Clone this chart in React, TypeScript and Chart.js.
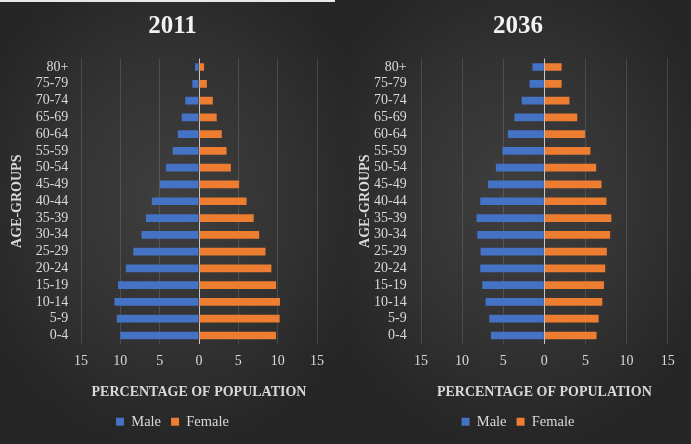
import React, { useEffect, useRef } from "react";
import { Chart, registerables } from "chart.js";

Chart.register(...registerables);

const AGE_GROUPS = ["0-4", "5-9", "10-14", "15-19", "20-24", "25-29", "30-34", "35-39", "40-44", "45-49", "50-54", "55-59", "60-64", "65-69", "70-74", "75-79", "80+"];
const MALE_2011 = [10.0, 10.45, 10.75, 10.3, 9.3, 8.35, 7.3, 6.75, 6.0, 5.0, 4.2, 3.35, 2.7, 2.2, 1.75, 0.85, 0.5];
const FEMALE_2011 = [9.8, 10.25, 10.3, 9.8, 9.2, 8.45, 7.65, 6.95, 6.05, 5.1, 4.05, 3.5, 2.9, 2.25, 1.75, 1.0, 0.65];
const MALE_2036 = [6.5, 6.7, 7.15, 7.55, 7.8, 7.75, 8.15, 8.25, 7.8, 6.85, 5.9, 5.1, 4.45, 3.65, 2.75, 1.8, 1.45];
const FEMALE_2036 = [6.35, 6.6, 7.05, 7.25, 7.4, 7.6, 8.0, 8.15, 7.55, 6.95, 6.3, 5.6, 4.95, 4.0, 3.05, 2.1, 2.1];
const X_MIN = -15;
const X_MAX = 15;
const X_STEP = 5;

const BLUE = "#4472C4";
const ORANGE = "#ED7D31";
const TEXT = "#d9d9d9";
const FONT = "'Liberation Serif', 'DejaVu Serif', serif";

type Geom = {
  width: number;
  yWidth: number;
  rightPad: number;
  labelPad: number;
  yTitlePad: number;
};

function Pyramid({ title, male, female, geom }: { title: string; male: number[]; female: number[]; geom: Geom }) {
  const ref = useRef<HTMLCanvasElement>(null);
  useEffect(() => {
    const chart = new Chart(ref.current as HTMLCanvasElement, {
      type: "bar",
      data: {
        labels: AGE_GROUPS,
        datasets: [
          {
            label: "Male",
            data: male.map((v) => -v),
            backgroundColor: BLUE,
            borderWidth: 0,
            barPercentage: 0.5,
            categoryPercentage: 0.92,
          },
          {
            label: "Female",
            data: female,
            backgroundColor: ORANGE,
            borderWidth: 0,
            barPercentage: 0.5,
            categoryPercentage: 0.92,
          },
        ],
      },
      options: {
        indexAxis: "y",
        responsive: false,
        animation: false,
        devicePixelRatio: 1,
        layout: { padding: { top: 0, left: 0, right: 0, bottom: 5 } },
        scales: {
          x: {
            stacked: true,
            min: X_MIN,
            max: X_MAX,
            ticks: {
              stepSize: X_STEP,
              color: TEXT,
              padding: 9.5,
              font: { family: FONT, size: 14 },
              callback: (v: any) => String(Math.abs(Number(v))),
            },
            grid: {
              drawTicks: false,
              color: (ctx: any) => (ctx.tick && ctx.tick.value === 0 ? "#c8c8c8" : "rgba(217,217,217,0.16)"),
              lineWidth: 1,
            },
            border: { display: false },
            title: {
              display: true,
              text: "PERCENTAGE OF POPULATION",
              color: TEXT,
              font: { family: FONT, size: 14, weight: "bold" },
              padding: { top: 0, bottom: 4.1 },
            },
            afterFit: (s: any) => {
              s.height = 60.6;
            },
          },
          y: {
            stacked: true,
            reverse: true,
            ticks: {
              color: TEXT,
              padding: geom.labelPad,
              font: { family: FONT, size: 14 },
              autoSkip: false,
            },
            grid: { display: false, drawTicks: false },
            border: { display: false },
            title: {
              display: true,
              text: "AGE-GROUPS",
              color: TEXT,
              font: { family: FONT, size: 14, weight: "bold" },
              padding: { top: geom.yTitlePad, bottom: 0 },
            },
            afterFit: (s: any) => {
              s.width = geom.yWidth;
            },
          },
          yR: {
            type: "category",
            position: "right",
            display: true,
            ticks: { display: false },
            grid: { display: false, drawTicks: false },
            border: { display: false },
            afterFit: (s: any) => {
              s.width = geom.rightPad;
            },
          },
        },
        plugins: {
          title: {
            display: true,
            text: title,
            color: "#f2f2f2",
            font: { family: FONT, size: 25, weight: "bold" },
            padding: { top: 12, bottom: 16.6 },
          },
          legend: {
            display: true,
            position: "bottom",
            labels: {
              color: TEXT,
              boxWidth: 8,
              boxHeight: 8,
              padding: 10,
              font: { family: FONT, size: 14.5 },
            },
          },
          tooltip: { enabled: false },
        },
      } as any,
    });
    return () => chart.destroy();
  }, []);
  return <canvas ref={ref} width={geom.width} height={444} style={{ display: "block" }} />;
}

const panelBg = "radial-gradient(ellipse 60% 55% at 50% 45%, #3f3f3f 0%, #333333 55%, #262626 100%)";

export default function App() {
  return (
    <div style={{ position: "fixed", left: 0, top: 0, width: 691, height: 444, background: "#262626", overflow: "hidden" }}>
      <div style={{ position: "absolute", left: 0, top: 0, width: 345, height: 444, background: panelBg }}>
        <Pyramid title="2011" male={MALE_2011} female={FEMALE_2011} geom={{ width: 345, yWidth: 81, rightPad: 28, labelPad: 12.7, yTitlePad: 8.6 }} />
      </div>
      <div style={{ position: "absolute", left: 345, top: 0, width: 346, height: 444, background: panelBg }}>
        <Pyramid title="2036" male={MALE_2036} female={FEMALE_2036} geom={{ width: 346, yWidth: 76, rightPad: 23.3, labelPad: 14.3, yTitlePad: 11.6 }} />
      </div>
      <div style={{ position: "absolute", left: 0, top: 0, width: 335, height: 2, background: "#e8e8e8" }} />
    </div>
  );
}
